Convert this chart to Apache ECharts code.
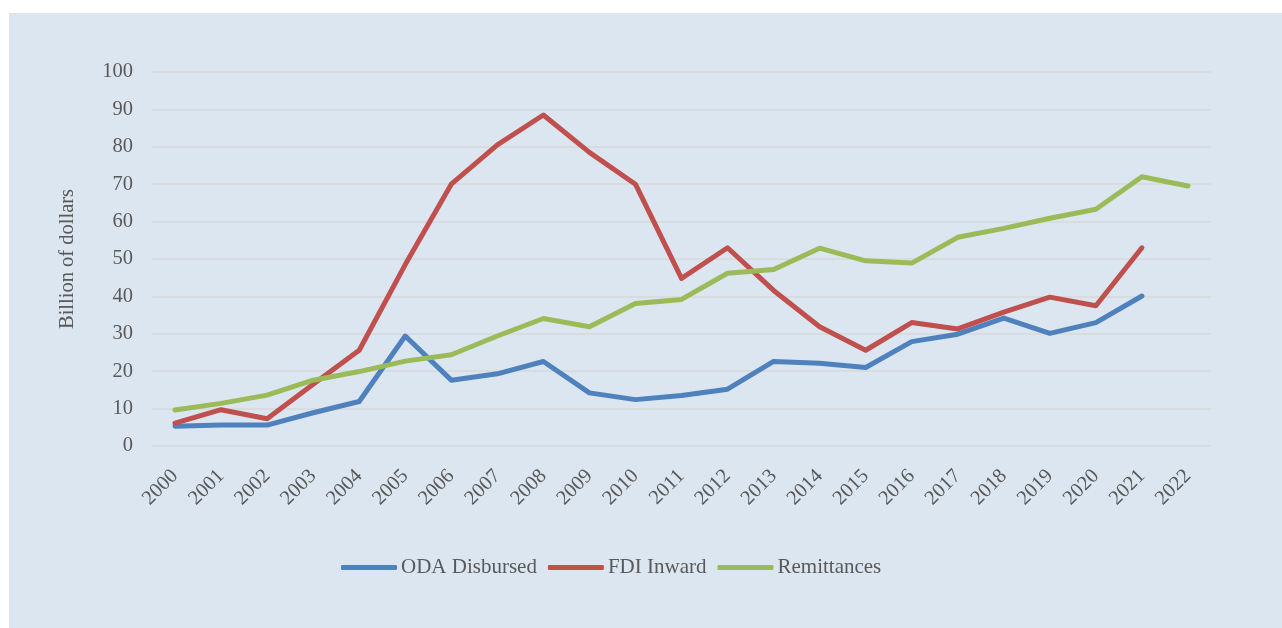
<!DOCTYPE html>
<html>
<head>
<meta charset="utf-8">
<script src="https://cdn.jsdelivr.net/npm/echarts@6/dist/echarts.min.js"></script>
<style>
html,body{margin:0;padding:0;background:#ffffff;width:1282px;height:628px;overflow:hidden;}
#chart{position:absolute;left:9px;top:13px;width:1273px;height:615px;}
</style>
</head>
<body>
<div id="chart"></div>
<script>
var years = ['2000','2001','2002','2003','2004','2005','2006','2007','2008','2009','2010','2011','2012','2013','2014','2015','2016','2017','2018','2019','2020','2021','2022'];
var odaDisbursed = [5.3,5.6,5.6,8.9,11.9,29.4,17.6,19.3,22.6,14.2,12.4,13.5,15.2,22.6,22.1,21.0,27.9,29.9,34.2,30.1,33.0,40.1,null];
var fdiInward = [6.1,9.7,7.3,16.5,25.6,48.5,70.0,80.5,88.5,78.5,70.0,44.8,53.0,41.6,31.9,25.6,33.0,31.3,35.8,39.8,37.5,53.0,null];
var remittances = [9.6,11.4,13.6,17.6,19.9,22.7,24.4,29.4,34.1,31.9,38.1,39.2,46.2,47.2,52.9,49.5,48.9,55.8,58.2,60.9,63.3,72.0,69.5];
var yTicks = [0,10,20,30,40,50,60,70,80,90,100];

var chart = echarts.init(document.getElementById('chart'), null, {renderer:'canvas'});
var font = '"Liberation Serif", "Times New Roman", serif';
var txt = '#595959';
function line(name, data, color){
  return {name:name, type:'line', data:data, symbol:'none', connectNulls:false,
    lineStyle:{color:color, width:5, cap:'round', join:'round'}, itemStyle:{color:color}};
}
chart.setOption({
  backgroundColor:'#dce6f1',
  animation:false,
  textStyle:{fontFamily:font},
  grid:{left:143, right:71, top:59, bottom:182},
  legend:{
    top:539, left:327,
    icon:'roundRect', itemWidth:56, itemHeight:5, itemGap:11,
    textStyle:{fontFamily:font, fontSize:21, color:txt, padding:[0,0,0,-1]},
    data:['ODA Disbursed','FDI Inward','Remittances']
  },
  xAxis:{
    type:'category', data:years, boundaryGap:true,
    axisLine:{show:false}, axisTick:{show:false},
    axisLabel:{rotate:45, margin:27, fontFamily:font, fontSize:20.5, color:txt, interval:0}
  },
  yAxis:{
    type:'value', min:yTicks[0], max:yTicks[yTicks.length-1], interval:10,
    name:'Billion of dollars', nameLocation:'middle', nameGap:74, nameRotate:90,
    nameTextStyle:{fontFamily:font, fontSize:20.5, color:txt},
    axisLine:{show:false}, axisTick:{show:false},
    axisLabel:{margin:19, fontFamily:font, fontSize:20.5, color:txt, padding:[5,0,0,0]},
    splitLine:{lineStyle:{color:'#d9d9d9', width:1.5}}
  },
  series:[
    line('ODA Disbursed', odaDisbursed, '#4f81bd'),
    line('FDI Inward', fdiInward, '#c0504d'),
    line('Remittances', remittances, '#9bbb59')
  ]
});
</script>
</body>
</html>
